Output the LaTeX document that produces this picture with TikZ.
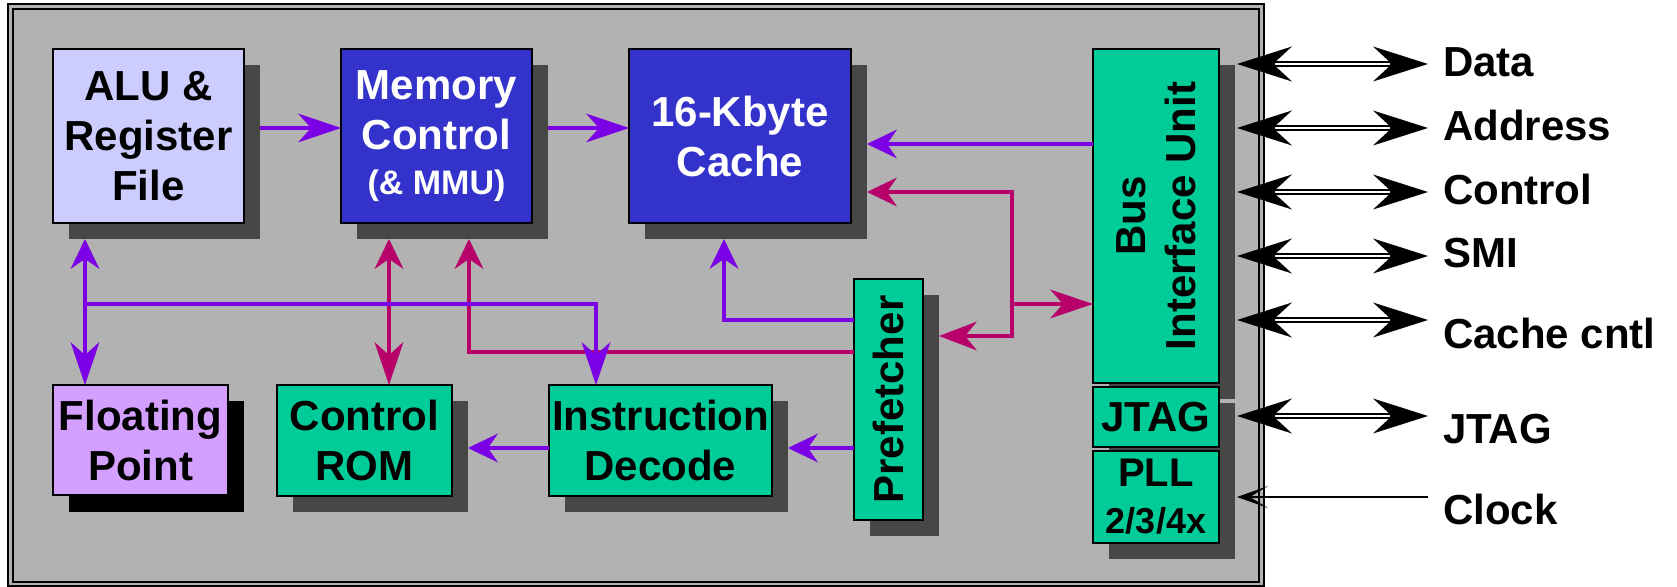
\documentclass[tikz,border=0pt]{standalone}
\usepackage{fontspec}
\setmainfont{Liberation Sans}
\usetikzlibrary{arrows.meta}
\definecolor{framegray}{RGB}{178,178,178}
\definecolor{shad}{RGB}{71,71,71}
\definecolor{alufill}{RGB}{204,204,255}
\definecolor{memblue}{RGB}{51,51,204}
\definecolor{unitgreen}{RGB}{0,204,153}
\definecolor{fpfill}{RGB}{212,160,255}
\definecolor{purp}{RGB}{123,0,230}
\definecolor{mag}{RGB}{184,0,107}
\tikzset{
  hs/.tip={Stealth[length=15pt,width=14.5pt,inset=5pt,line width=0pt]},
  hm/.tip={Stealth[length=19pt,width=14.5pt,inset=6pt,line width=0pt]},
  hl/.tip={Stealth[length=21.5pt,width=14.5pt,inset=6.5pt,line width=0pt]},
  bigh/.tip={Stealth[length=27.5pt,width=17.5pt,inset=9.5pt,line width=0pt]},
  clk/.tip={Stealth[length=15.5pt,width=11pt,inset=9pt,line width=0pt]},
  boxat/.style n args={4}{minimum width={((#3)-(#1))*0.5pt}, minimum height={((#4)-(#2))*0.5pt}, at={({((#1)+(#3))/2},{((#2)+(#4))/2})}},
  bigfont/.style={font=\bfseries\fontsize{21}{25}\selectfont},
  box/.style={draw=black, line width=1.25pt, inner sep=0pt, outer sep=0pt, align=center, bigfont},
  shadowbox/.style={fill=shad, inner sep=0pt, outer sep=0pt},
  txt/.style={inner sep=0pt, outer sep=0pt, align=center, bigfont},
  lbl/.style={inner sep=0pt, outer sep=0pt, bigfont, text height=15pt, text depth=0pt, anchor=west},
  pa/.style={draw=purp, line width=2.3pt},
  ma/.style={draw=mag, line width=2.3pt},
  dbl/.style={draw=black, line width=3pt, bigh-bigh},
  dblin/.style={draw=white, line width=1.1pt},
}
\begin{document}
\begin{tikzpicture}[x=0.5pt,y=-0.5pt]
\useasboundingbox (0,0) rectangle (1677,587);
% frame
\draw[line width=1.25pt, fill=framegray] (8,4) rectangle (1264,586);
\draw[line width=1pt] (13,9) rectangle (1259,582);
% helper coordinates
\coordinate (rowA) at (0,128);
\coordinate (rowB) at (0,144);
\coordinate (rowMC) at (0,192);
\coordinate (rowBus) at (0,304);
\coordinate (rowPC) at (0,320);
\coordinate (rowMP) at (0,336);
\coordinate (rowPM) at (0,352);
\coordinate (rowDec) at (0,448);
\coordinate (colL) at (85,0);
\coordinate (colMR) at (389,0);
\coordinate (colMP) at (469,0);
\coordinate (colID) at (596,0);
\coordinate (colPC) at (724,0);
\coordinate (colJ) at (1012,0);
% shadows
\node[shadowbox, boxat={69}{65}{260}{239}] (aluS) {};
\node[shadowbox, boxat={357}{65}{548}{239}] (memS) {};
\node[shadowbox, boxat={645}{65}{867}{239}] (cacheS) {};
\node[shadowbox, boxat={1109}{65}{1235}{399}] (biuS) {};
\node[shadowbox, boxat={1109}{403}{1235}{559}] (jtagS) {};
\node[shadowbox, boxat={870}{295}{939}{536}] (preS) {};
\node[shadowbox, boxat={565}{401}{788}{512}] (idS) {};
\node[shadowbox, boxat={293}{401}{468}{512}] (romS) {};
\node[shadowbox, fill=black, boxat={69}{401}{244}{512}] (fpS) {};
% boxes
\node[box, fill=alufill, boxat={53}{49}{244}{223}] (alu) {ALU \&\\Register\\File};
\node[box, fill=memblue, text=white, boxat={341}{49}{532}{223}] (mem) {Memory\\Control\\[-2.5pt]{\fontsize{17}{20}\selectfont(\& MMU)}};
\node[box, fill=memblue, text=white, boxat={629}{49}{851}{223}] (cache) {16-Kbyte\\Cache};
\node[box, fill=unitgreen, boxat={1093}{49}{1219}{383}] (biu) {};
\node[txt, rotate=90] (biuT) at (biu.center) {Bus\\Interface Unit};
\node[box, fill=unitgreen, boxat={1093}{387}{1219}{447}] (jtag) {JTAG};
\node[box, fill=unitgreen, boxat={1093}{451}{1219}{543}, font=\bfseries\fontsize{20}{23.5}\selectfont] (pll) {PLL\\{\fontsize{18}{21}\selectfont 2/3/4x}};
\node[box, fill=unitgreen, boxat={854}{279}{923}{520}] (pre) {};
\node[txt, rotate=90] (preT) at (pre.center) {Prefetcher};
\node[box, fill=unitgreen, boxat={549}{385}{772}{496}] (id) {Instruction\\Decode};
\node[box, fill=unitgreen, boxat={277}{385}{452}{496}] (rom) {Control\\ROM};
\node[box, fill=fpfill, boxat={53}{385}{228}{495}] (fp) {Floating\\Point};
% magenta connectors
\draw[ma, hs-hl] (colMR |- memS.south) -- (colMR |- rom.north);
\draw[ma, -hs] (pre.west |- rowPM) -| (colMP |- memS.south);
\draw[ma, hs-hm] (cacheS.east |- rowMC) -| (colJ |- rowMP) -- (preS.east |- rowMP);
\draw[ma, -hl] (colJ |- rowBus) -- (biu.west |- rowBus);
% purple connectors
\draw[pa, -hl] (aluS.east |- rowA) -- (mem.west |- rowA);
\draw[pa, -hl] (memS.east |- rowA) -- (cache.west |- rowA);
\draw[pa, -hs] (biu.west |- rowB) -- (cacheS.east |- rowB);
\draw[pa, hs-hl] (colL |- aluS.south) -- (colL |- fp.north);
\draw[pa, -hl] (colL |- rowBus) -| (colID |- id.north);
\draw[pa, -hs] (pre.west |- rowPC) -| (colPC |- cacheS.south);
\draw[pa, -hs] (pre.west |- rowDec) -- (idS.east |- rowDec);
\draw[pa, -hs] (id.west |- rowDec) -- (romS.east |- rowDec);
% external signals
\foreach \nm/\yy in {d/64, a/128, c/192, s/256, cc/320, j/416}{
  \coordinate (\nm L) at (1237,\yy);
  \coordinate (\nm R) at (1428,\yy);
  \draw[dbl] (\nm L) -- (\nm R);
  \draw[dblin] ([xshift=19pt]\nm L) -- ([xshift=-19pt]\nm R);
}
\coordinate (clkL) at (1237,497);
\coordinate (clkR) at (1428,497);
\draw[line width=0.8pt, -clk] (clkR) -- (clkL);
\node[lbl] (tData) at (1443,62) {Data};
\node[lbl] (tAddr) at (1443,126) {Address};
\node[lbl] (tCtrl) at (1443,190) {Control};
\node[lbl] (tSmi) at (1443,253) {SMI};
\node[lbl] (tCc) at (1443,334) {Cache cntl};
\node[lbl] (tJtag) at (1443,429) {JTAG};
\node[lbl] (tClk) at (1443,509) {Clock};
\end{tikzpicture}
\end{document}
